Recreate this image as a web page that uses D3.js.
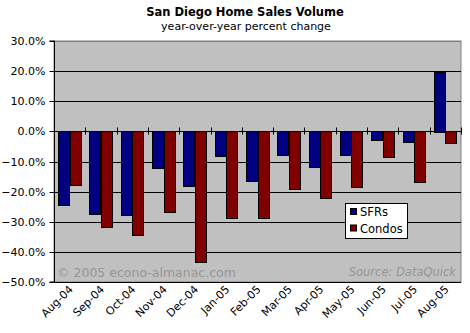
<!DOCTYPE html>
<html><head><meta charset="utf-8">
<script src="https://cdn.jsdelivr.net/npm/d3@7"></script>
<style>
body{margin:0;background:#fff;}
svg text{font-family:"DejaVu Sans",Verdana,sans-serif;}
</style></head>
<body>
<svg id="c" width="470" height="333"></svg>
<script>
const categories = ["Aug-04","Sep-04","Oct-04","Nov-04","Dec-04","Jan-05","Feb-05","Mar-05","Apr-05","May-05","Jun-05","Jul-05","Aug-05"];
const seriesNames = ["SFRs","Condos"];
const sfrs   = [-24.7,-27.4,-27.8,-12.4,-18.1,-8.3,-16.5,-8.1,-11.9,-8.1,-3.0,-3.7,19.8];
const condos = [-18.0,-31.8,-34.4,-26.9,-43.4,-29.0,-28.8,-19.1,-22.1,-18.6,-8.5,-16.8,-4.0];
const yTicks = [30,20,10,0,-10,-20,-30,-40,-50];
const colors = ["#000080","#800000"];

const svg = d3.select("#c");
const L = 54, R = 461, T = 41, B = 282;

const y = d3.scaleLinear().domain([-50,30]).range([B,T]);
const x0 = d3.scaleBand().domain(categories).range([L,R]).paddingInner(0).paddingOuter(0);
const x1 = d3.scaleBand().domain(seriesNames).range([0,x0.bandwidth()]).paddingInner(0).paddingOuter(0.36);

// plot background
svg.append("rect").attr("x",L).attr("y",T).attr("width",R-L).attr("height",B-T)
  .attr("fill","#c0c0c0").attr("stroke","#808080").attr("stroke-width",1);

// gridlines
svg.append("g").selectAll("line").data(yTicks).join("line")
  .attr("x1",L).attr("x2",R)
  .attr("y1",d=>Math.round(y(d))+0.5).attr("y2",d=>Math.round(y(d))+0.5)
  .attr("stroke",d=> d===30 ? "#808080" : "#000").attr("stroke-width",1);

// watermark texts
svg.append("text").attr("x",57).attr("y",277).attr("font-size",12.5).attr("fill","#969696")
  .text("© 2005 econo-almanac.com");
svg.append("text").attr("x",456).attr("y",276).attr("font-size",11.5).attr("font-style","italic")
  .attr("text-anchor","end").attr("fill","#969696").text("Source: DataQuick");

// bars
const data = categories.map((c,i)=>({c, vals:[sfrs[i],condos[i]]}));
const g = svg.append("g");
data.forEach(d=>{
  d.vals.forEach((v,j)=>{
    const xx = x0(d.c)+x1(seriesNames[j]);
    const y0 = y(0), yv = y(v);
    g.append("rect")
      .attr("x",Math.round(xx)+0.5)
      .attr("y",Math.round(Math.min(y0,yv))+0.5)
      .attr("width",Math.round(x1.bandwidth())-1)
      .attr("height",Math.max(1,Math.round(Math.abs(yv-y0))))
      .attr("fill",colors[j]).attr("stroke","#000").attr("stroke-width",1);
  });
});

// category ticks on zero line
const zeroY = Math.round(y(0))+0.5;
svg.append("line").attr("x1",L).attr("x2",R).attr("y1",zeroY).attr("y2",zeroY).attr("stroke","#000");
svg.append("g").selectAll("line").data(categories.slice(1).concat(["__end"])).join("line")
  .attr("x1",(d,i)=>Math.round(L+(i+1)*x0.step())+0.5)
  .attr("x2",(d,i)=>Math.round(L+(i+1)*x0.step())+0.5)
  .attr("y1",zeroY-4).attr("y2",zeroY+3).attr("stroke","#000");

// y axis
const yAxis = d3.axisLeft(y).tickValues(yTicks).tickSize(5).tickPadding(4)
  .tickFormat(d=>d3.format(".1f")(d)+"%");
const ya = svg.append("g").attr("transform",`translate(${L+0.5},0)`).call(yAxis);
ya.select(".domain").attr("stroke","#000").attr("d",`M-5,${T}H0V${B}H-5`);
ya.selectAll(".tick line").attr("stroke","#000");
ya.selectAll(".tick").attr("transform",d=>`translate(0,${Math.round(y(d))+0.5})`);
ya.selectAll("text").attr("font-size",11).attr("fill","#000").attr("font-family","DejaVu Sans, Verdana, sans-serif").attr("dy","0.35em");

// x labels
svg.append("g").selectAll("text").data(categories).join("text")
  .attr("font-size",11).attr("text-anchor","end")
  .attr("transform",d=>`translate(${x0(d)+x0.bandwidth()/2+4},${B+8}) rotate(-45)`)
  .text(d=>d);

// title
svg.append("text").attr("x",245).attr("y",15.5).attr("text-anchor","middle")
  .attr("font-size",11.5).attr("font-weight","bold").text("San Diego Home Sales Volume");
svg.append("text").attr("x",246).attr("y",30).attr("text-anchor","middle")
  .attr("font-size",11).text("year-over-year percent change");

// legend
const lg = svg.append("g");
lg.append("rect").attr("x",345.5).attr("y",203.5).attr("width",62).attr("height",35)
  .attr("fill","#fff").attr("stroke","#000");
seriesNames.forEach((n,j)=>{
  lg.append("rect").attr("x",350.5).attr("y",208.5+j*16.5).attr("width",6).attr("height",6)
    .attr("fill",colors[j]).attr("stroke","#000");
  lg.append("text").attr("x",360).attr("y",216+j*16.5).attr("font-size",11.5).text(n);
});
</script>
</body></html>
